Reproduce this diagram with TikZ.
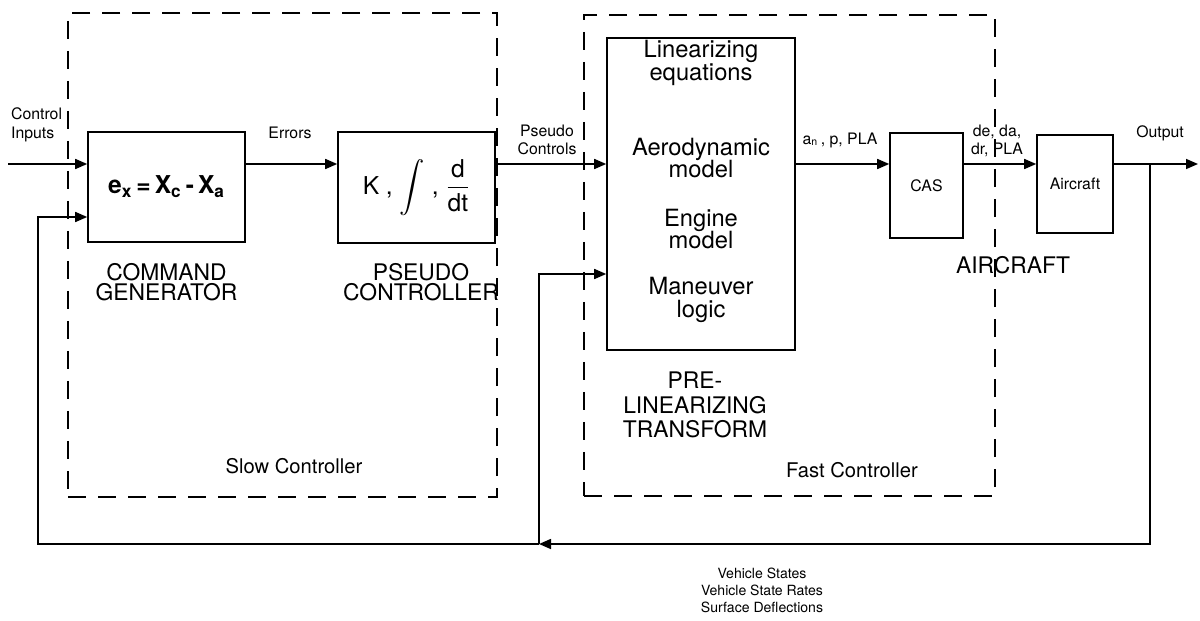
\documentclass[tikz,border=0pt]{standalone}
\usepackage{fontspec}
\setmainfont{TeX Gyre Heros}
\usepackage{amsmath}
\usetikzlibrary{arrows.meta,positioning,calc}
\tikzset{
  box/.style={draw,line width=0.9pt,inner sep=0pt,align=center},
  grp/.style={draw,line width=1pt,dash pattern=on 3.6mm off 2.4mm,inner sep=0pt},
  ar/.style={-{Triangle[length=2.4mm,width=2mm]},line width=0.9pt},
  ln/.style={line width=0.9pt},
  lbl/.style={font=\fontsize{9}{10.5}\selectfont,align=center,inner sep=1pt},
  caps/.style={font=\fontsize{13}{11.5}\selectfont,align=center,inner sep=1pt},
  txt/.style={font=\fontsize{13.5}{13}\selectfont,align=center,inner sep=1pt}
}

\begin{document}
\begin{tikzpicture}
  \useasboundingbox (0,0) rectangle (24,-12.42);
  % dashed controller groups
  \node[grp,minimum width=8.58cm,minimum height=9.68cm] (slow) at (5.65,-5.10) {};
  \node[grp,minimum width=8.22cm,minimum height=9.62cm] (fast) at (15.79,-5.11) {};

  % blocks
  \node[box,minimum width=3.14cm,minimum height=2.2cm] (cmdgen) at (3.33,-3.74)
    {\fontsize{14}{14}\selectfont\bfseries e\textsubscript{x}\,=\,X\textsubscript{c}\,-\,X\textsubscript{a}};
  \node[box,minimum width=3.14cm,minimum height=2.22cm] (pseudo) at (8.33,-3.75)
    {\fontsize{14}{14}\selectfont K\ ,\ $\displaystyle\int$\ ,\ $\dfrac{\text{d}}{\text{dt}}$};
  \node[box,minimum width=3.76cm,minimum height=6.24cm] (pre) at (14.02,-3.88) {};
  \node[box,minimum width=1.46cm,minimum height=2.1cm,font=\fontsize{9}{10}\selectfont] (cas) at (18.53,-3.71) {CAS};
  \node[box,minimum width=1.52cm,minimum height=1.96cm,font=\fontsize{9}{10}\selectfont] (acft) at (21.5,-3.68) {Aircraft};

  % text inside the transform block
  \node[txt] (lineq) at (14.02,-1.26) {Linearizing\\equations};
  \node[txt] (aero)  at (14.02,-3.16) {Aerodynamic\\model};
  \node[txt] (eng)   at (14.02,-4.58) {Engine\\model};
  \node[txt] (man)   at (14.02,-6.00) {Maneuver\\logic};

  % signal path
  \coordinate (in) at (0.16,-3.28);
  \coordinate (outend) at (23.96,-3.28);
  \coordinate (tap) at (23.0,-3.28);
  \coordinate (fb) at (10.78,-10.88);
  \coordinate (fbl) at (0.76,-10.88);
  \draw[ar] (in) -- (in -| cmdgen.west);
  \draw[ar] (in -| cmdgen.east) -- (in -| pseudo.west);
  \draw[ar] (in -| pseudo.east) -- (in -| pre.west);
  \draw[ar] (in -| pre.east) -- (in -| cas.west);
  \draw[ar] (in -| cas.east) -- (in -| acft.west);
  \draw[ar] (in -| acft.east) -- (outend);
  % feedback
  \draw[ar] (tap) |- (fb);
  \draw[ar] (fb) -- (fbl) |- ([yshift=-6mm]cmdgen.west);
  \draw[ar] (fb) |- ([yshift=-16mm]pre.west);

  % labels
  \node[lbl,align=left,anchor=west] (ctrlin) at (0.18,-2.5) {Control\\Inputs};
  \node[lbl] (err) at (5.8,-2.66) {Errors};
  \node[lbl] (psc) at (10.94,-2.8) {Pseudo\\Controls};
  \node[lbl] (anp) at (16.8,-2.8) {a\textsubscript{n}\,, p, PLA};
  \node[lbl] (defl) at (19.94,-2.82) {de, da,\\dr, PLA};
  \node[lbl] (outl) at (23.2,-2.66) {Output};
  \node[caps] (cgl) at (3.33,-5.64) {COMMAND\\GENERATOR};
  \node[caps] (pcl) at (8.42,-5.64) {PSEUDO\\CONTROLLER};
  \node[caps,font=\fontsize{13}{14}\selectfont] (plt) at (13.9,-8.1) {PRE-\\LINEARIZING\\TRANSFORM};
  \node[caps] (acl) at (20.26,-5.3) {AIRCRAFT};
  \node[lbl,font=\fontsize{11.5}{12}\selectfont] (slowl) at (5.88,-9.32) {Slow Controller};
  \node[lbl,font=\fontsize{11.5}{12}\selectfont] (fastl) at (17.04,-9.4) {Fast Controller};
  \node[lbl,font=\fontsize{8}{9.6}\selectfont] (vs) at (15.24,-11.8)
    {Vehicle States\\Vehicle State Rates\\Surface Deflections};
\end{tikzpicture}
\end{document}
